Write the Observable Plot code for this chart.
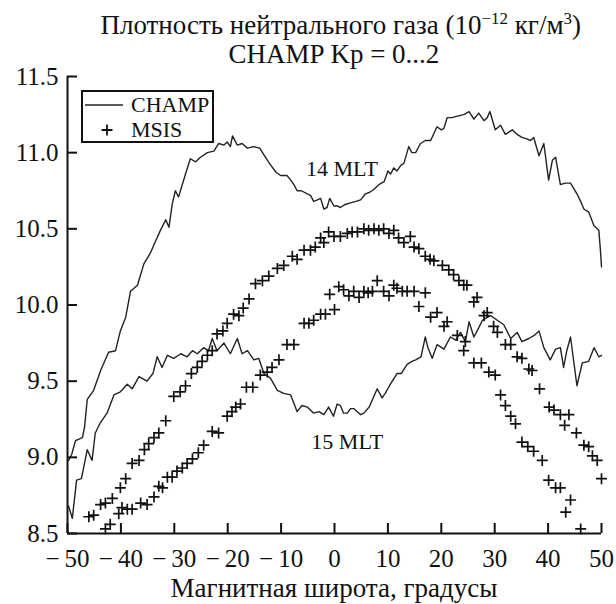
<!DOCTYPE html>
<html><head><meta charset="utf-8">
<script src="https://cdn.jsdelivr.net/npm/d3@7"></script>
<script src="https://cdn.jsdelivr.net/npm/@observablehq/plot@0.6"></script>
<style>
body{margin:0;background:#fff;}
#wrap{position:relative;width:616px;height:604px;}
#chart{position:absolute;left:0;top:0;}
#over{position:absolute;left:0;top:0;}
#over text{font-family:"Liberation Serif","Tinos","Times New Roman","DejaVu Serif",serif;fill:#111;}
</style></head><body>
<div id="wrap">
<div id="chart"></div>
<svg id="over" width="616" height="604" style="pointer-events:none">
  <text x="581" y="34" font-size="27" text-anchor="end">Плотность нейтрального газа (10<tspan font-size="17" dy="-10">−12</tspan><tspan dy="10"> кг/м</tspan><tspan font-size="17" dy="-10">3</tspan><tspan dy="10">)</tspan></text>
  <text x="334" y="63" font-size="27" text-anchor="middle">CHAMP Kp = 0...2</text>
  <text x="334" y="597" font-size="27" text-anchor="middle">Магнитная широта, градусы</text>
  <rect x="82" y="91" width="131" height="51" fill="#fff" stroke="#111" stroke-width="2"/>
  <line x1="85" y1="105" x2="123" y2="105" stroke="#222" stroke-width="1.5"/>
  <text x="131" y="112" font-size="22">CHAMP</text>
  <path d="M101.5,130H112.5M107,124.5V135.5" stroke="#111" stroke-width="1.8"/>
  <text x="131" y="137" font-size="22">MSIS</text>
</svg>
</div>
<script>
const xTicks = [-50,-40,-30,-20,-10,0,10,20,30,40,50];
const yTicks = [8.5,9.0,9.5,10.0,10.5,11.0,11.5];

const champ14 = [[-49.8,8.98],[-49.2,9.02],[-48.5,9.11],[-47.2,9.13],[-46.8,9.2],[-46.3,9.38],[-45.1,9.44],[-43.8,9.57],[-42.3,9.69],[-41.0,9.7],[-40.1,9.83],[-39.1,9.92],[-38.2,10.09],[-36.9,10.13],[-35.7,10.27],[-34.5,10.34],[-33.5,10.42],[-32.6,10.49],[-31.6,10.56],[-31.0,10.51],[-30.4,10.66],[-29.8,10.75],[-29.2,10.71],[-27.9,10.86],[-27.0,10.96],[-26.0,10.94],[-25.1,10.97],[-23.8,11.0],[-22.6,11.01],[-21.7,11.06],[-20.7,11.05],[-20.1,11.07],[-19.5,11.04],[-19.1,11.11],[-18.2,11.05],[-17.3,11.06],[-16.3,11.03],[-15.2,11.04],[-14.0,11.03],[-13.3,10.99],[-12.0,10.92],[-10.9,10.87],[-10.1,10.85],[-8.9,10.85],[-8.2,10.82],[-7.6,10.79],[-7.0,10.75],[-6.2,10.75],[-5.1,10.73],[-4.5,10.72],[-3.9,10.68],[-3.2,10.69],[-2.6,10.7],[-2.0,10.63],[-1.4,10.64],[-0.9,10.7],[-0.1,10.65],[0.5,10.65],[1.1,10.64],[2.0,10.66],[3.0,10.67],[4.0,10.68],[4.9,10.69],[5.8,10.73],[6.6,10.74],[7.4,10.76],[8.3,10.79],[9.3,10.81],[10.0,10.88],[10.5,10.86],[11.1,10.9],[11.7,10.88],[12.5,10.92],[13.0,10.93],[13.9,11.04],[14.5,11.0],[15.2,11.0],[16.1,11.06],[17.0,11.08],[18.0,11.08],[19.2,11.17],[20.0,11.15],[20.5,11.16],[21.1,11.23],[22.0,11.23],[23.0,11.24],[24.2,11.25],[25.2,11.27],[26.1,11.22],[27.0,11.26],[28.0,11.21],[28.6,11.23],[29.1,11.27],[30.1,11.15],[31.1,11.18],[32.0,11.12],[33.3,11.15],[34.2,11.12],[35.1,11.1],[36.0,11.09],[36.7,11.08],[37.3,11.1],[38.3,10.98],[39.2,11.06],[40.1,10.82],[40.8,10.95],[41.4,10.97],[42.3,10.79],[43.2,10.8],[44.2,10.8],[45.4,10.73],[46.1,10.68],[46.7,10.63],[47.6,10.61],[48.6,10.52],[49.5,10.49],[49.8,10.36],[50.0,10.25]];

const champ15 = [[-49.8,8.68],[-49.1,8.6],[-48.3,8.85],[-47.4,8.86],[-46.3,9.05],[-45.4,8.98],[-44.8,9.16],[-43.8,9.23],[-42.6,9.29],[-41.3,9.41],[-40.1,9.43],[-38.8,9.48],[-37.9,9.45],[-36.6,9.53],[-35.1,9.5],[-34.0,9.55],[-33.2,9.66],[-32.3,9.59],[-31.3,9.67],[-30.1,9.65],[-28.8,9.68],[-27.6,9.66],[-26.6,9.7],[-25.7,9.68],[-24.5,9.72],[-23.6,9.7],[-22.9,9.78],[-22.0,9.7],[-20.7,9.75],[-19.5,9.68],[-18.2,9.78],[-17.3,9.68],[-16.3,9.7],[-15.1,9.64],[-14.2,9.65],[-13.2,9.55],[-12.0,9.52],[-10.7,9.44],[-9.5,9.42],[-8.2,9.41],[-7.0,9.3],[-6.1,9.34],[-5.1,9.33],[-3.9,9.29],[-2.9,9.3],[-2.0,9.28],[-1.1,9.33],[-0.2,9.27],[0.5,9.35],[1.1,9.34],[1.7,9.29],[2.4,9.29],[3.0,9.32],[3.6,9.32],[4.9,9.28],[5.5,9.29],[6.5,9.33],[8.0,9.45],[8.9,9.39],[9.5,9.42],[10.3,9.47],[11.7,9.55],[12.5,9.55],[13.6,9.61],[14.5,9.63],[15.2,9.64],[16.2,9.66],[17.0,9.79],[17.5,9.72],[18.3,9.65],[19.2,9.74],[20.5,9.71],[21.7,9.79],[22.7,9.77],[23.6,9.82],[24.5,9.76],[25.2,9.89],[26.1,9.79],[27.0,9.85],[27.7,9.9],[29.2,9.93],[30.5,9.9],[31.7,9.87],[33.0,9.78],[34.2,9.82],[35.1,9.76],[36.4,9.78],[37.4,9.8],[38.3,9.83],[39.2,9.72],[40.4,9.64],[41.4,9.71],[42.3,9.72],[42.9,9.59],[43.5,9.7],[44.2,9.79],[45.4,9.47],[46.4,9.62],[47.6,9.63],[48.6,9.72],[49.5,9.66],[50.0,9.67]];

const msis14 = [[-46.0,8.61],[-45.1,8.62],[-43.8,8.69],[-42.9,8.7],[-41.6,8.73],[-40.1,8.8],[-39.1,8.86],[-37.9,8.96],[-36.6,8.98],[-35.6,9.05],[-34.8,9.09],[-33.8,9.13],[-32.9,9.16],[-31.6,9.24],[-30.1,9.4],[-28.9,9.43],[-27.9,9.47],[-26.8,9.55],[-25.7,9.59],[-24.8,9.63],[-23.8,9.67],[-22.9,9.7],[-22.0,9.81],[-20.9,9.83],[-20.1,9.88],[-18.9,9.94],[-17.9,9.93],[-17.1,9.98],[-16.0,10.04],[-14.8,10.14],[-13.5,10.16],[-12.3,10.19],[-10.7,10.24],[-9.5,10.26],[-7.9,10.32],[-7.0,10.3],[-5.7,10.36],[-4.5,10.36],[-3.6,10.38],[-2.6,10.44],[-2.0,10.41],[-1.1,10.48],[-0.1,10.45],[1.1,10.45],[2.4,10.47],[3.3,10.48],[4.3,10.48],[5.5,10.5],[6.4,10.49],[7.4,10.5],[8.3,10.49],[9.2,10.5],[10.2,10.47],[11.1,10.49],[12.0,10.44],[13.0,10.41],[14.2,10.45],[14.9,10.38],[15.8,10.37],[17.0,10.32],[17.9,10.3],[18.6,10.29],[20.2,10.26],[21.4,10.23],[22.3,10.2],[23.3,10.16],[24.2,10.13],[24.8,10.13],[26.1,10.02],[26.7,10.05],[28.0,9.93],[28.6,9.95],[29.8,9.86],[30.5,9.82],[32.0,9.74],[33.0,9.74],[34.2,9.66],[35.1,9.65],[36.4,9.58],[37.0,9.57],[38.4,9.45],[40.2,9.33],[41.1,9.31],[42.3,9.28],[43.1,9.21],[43.9,9.28],[45.3,9.16],[46.7,9.08],[47.6,9.07],[48.3,9.01],[49.2,8.98],[50.0,8.86]];

const msis15 = [[-42.9,8.53],[-42.0,8.56],[-40.4,8.63],[-39.8,8.67],[-38.8,8.66],[-37.9,8.66],[-36.3,8.7],[-35.1,8.69],[-33.8,8.74],[-32.9,8.81],[-32.2,8.8],[-31.3,8.87],[-30.4,8.87],[-29.5,8.91],[-28.5,8.93],[-27.6,8.96],[-26.6,8.99],[-25.5,9.03],[-24.5,9.08],[-22.9,9.17],[-21.7,9.16],[-20.1,9.27],[-19.2,9.3],[-18.5,9.33],[-17.6,9.35],[-16.5,9.46],[-15.3,9.46],[-13.9,9.54],[-12.6,9.56],[-11.7,9.59],[-10.4,9.64],[-8.9,9.74],[-7.6,9.74],[-5.7,9.88],[-4.8,9.88],[-3.9,9.9],[-2.6,9.94],[-1.7,9.94],[-0.9,10.07],[0.0,9.97],[0.8,10.12],[1.7,10.1],[2.7,10.06],[3.6,10.09],[4.6,10.05],[5.5,10.09],[6.3,10.08],[7.1,10.09],[8.0,10.16],[9.2,10.09],[10.2,10.06],[11.1,10.13],[11.7,10.11],[12.7,10.09],[13.6,10.09],[14.9,10.09],[15.8,9.99],[17.0,10.08],[18.0,9.92],[19.2,9.95],[20.5,9.86],[21.1,9.89],[23.0,9.8],[24.2,9.7],[24.5,9.76],[26.1,9.62],[27.5,9.62],[28.9,9.56],[30.1,9.54],[31.1,9.41],[32.0,9.34],[33.0,9.27],[33.9,9.22],[35.1,9.1],[36.2,9.07],[37.3,9.04],[38.9,8.98],[40.1,8.85],[41.4,8.8],[42.3,8.8],[43.3,8.64],[44.2,8.72],[46.1,8.53]];

const labels = [{x:1.4, y:10.89, text:"14 MLT"},{x:2.4, y:9.10, text:"15 MLT"}];

const plusSymbol = {
  draw(ctx, size) {
    const r = Math.sqrt(size / Math.PI);
    ctx.moveTo(-r, 0); ctx.lineTo(r, 0);
    ctx.moveTo(0, -r); ctx.lineTo(0, r);
  }
};

const fmt = d => d < 0 ? "\u2212\u2009" + (-d) : String(d);
const serif = "'Liberation Serif', Tinos, 'Times New Roman', 'DejaVu Serif', serif";

const chart = Plot.plot({
  width: 616, height: 604,
  marginLeft: 67, marginRight: 15, marginTop: 76, marginBottom: 71,
  x: {domain: [-50, 50]},
  y: {domain: [8.5, 11.5]},
  style: {fontFamily: serif, fontSize: "25px", color: "#111", background: "transparent", overflow: "visible"},
  marks: [
    Plot.line(champ14, {x: d => d[0], y: d => d[1], stroke: "#222", strokeWidth: 1.4}),
    Plot.line(champ15, {x: d => d[0], y: d => d[1], stroke: "#222", strokeWidth: 1.4}),
    Plot.dot(msis14, {x: d => d[0], y: d => d[1], symbol: plusSymbol, r: 5.5, stroke: "#111", strokeWidth: 1.7, fill: "none"}),
    Plot.dot(msis15, {x: d => d[0], y: d => d[1], symbol: plusSymbol, r: 5.5, stroke: "#111", strokeWidth: 1.7, fill: "none"}),
    Plot.text(labels, {x: "x", y: "y", text: "text", fontSize: 22, fill: "#111", fontFamily: serif}),
    Plot.axisX(xTicks, {tickSize: -10, tickPadding: 26, strokeWidth: 2, tickFormat: fmt, label: null, fontSize: 25, fontFamily: serif}),
    Plot.axisY(yTicks, {tickSize: -10, tickPadding: 19, strokeWidth: 2, tickFormat: d3.format(".1f"), label: null, fontSize: 25, fontFamily: serif}),
    Plot.ruleY([8.5], {strokeWidth: 2, stroke: "#111"}),
    Plot.ruleX([-50], {strokeWidth: 2, stroke: "#111"})
  ]
});
document.getElementById("chart").appendChild(chart);
</script>
</body></html>
